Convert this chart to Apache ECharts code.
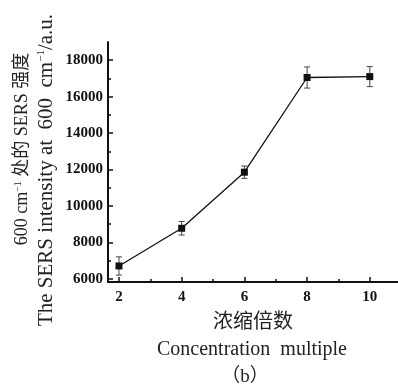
<!DOCTYPE html>
<html>
<head>
<meta charset="utf-8">
<script src="https://cdn.jsdelivr.net/npm/echarts@6/dist/echarts.min.js"></script>
<style>html,body{margin:0;padding:0;background:#fff;}#c{width:398px;height:389px;}</style>
</head>
<body>
<div id="c"></div>
<script>
const concentration = [2, 4, 6, 8, 10];
const intensity = [6700, 8770, 11850, 17050, 17100];
const errors = [500, 370, 340, 580, 550];
const xTickLabels = [2, 4, 6, 8, 10];
const xMinorTicks = [3, 5, 7, 9];
const yTickLabels = [6000, 8000, 10000, 12000, 14000, 16000, 18000];
const yMinorTicks = [7000, 9000, 11000, 13000, 15000, 17000];

const serif = '"Liberation Serif", "Times New Roman", "Noto Sans CJK SC", serif';
const chart = echarts.init(document.getElementById('c'), null, {renderer: 'canvas'});

const points = concentration.map((x, i) => [x, intensity[i]]);
const errData = concentration.map((x, i) => [x, intensity[i] - errors[i], intensity[i] + errors[i]]);

const xBase = {type: 'value', min: 1.65, max: 10.9, gridIndex: 0, position: 'bottom', splitLine: {show: false}};
const yBase = {type: 'value', min: 5820, max: 19000, gridIndex: 0, position: 'left', splitLine: {show: false}};

chart.setOption({
  animation: false,
  backgroundColor: '#fff',
  grid: {left: 108, right: 0, top: 42, bottom: 107, containLabel: false},
  xAxis: [
    Object.assign({}, xBase, {
      axisLine: {show: true, onZero: false, lineStyle: {color: '#111', width: 2}},
      axisTick: {show: true, inside: true, length: 5, customValues: xTickLabels, lineStyle: {color: '#111', width: 1.5}},
      axisLabel: {show: true, customValues: xTickLabels, margin: 8, color: '#111', fontFamily: serif, fontWeight: 'bold', fontSize: 15,
        formatter: v => String(v)}
    }),
    Object.assign({}, xBase, {
      axisLine: {show: false, onZero: false},
      axisTick: {show: true, inside: true, length: 3, customValues: xMinorTicks, lineStyle: {color: '#111', width: 1.5}},
      axisLabel: {show: false}
    })
  ],
  yAxis: [
    Object.assign({}, yBase, {
      axisLine: {show: true, onZero: false, lineStyle: {color: '#111', width: 2}},
      axisTick: {show: true, inside: true, length: 5, customValues: yTickLabels, lineStyle: {color: '#111', width: 1.5}},
      axisLabel: {show: true, customValues: yTickLabels, margin: 5, color: '#111', fontFamily: serif, fontWeight: 'bold', fontSize: 15,
        formatter: v => String(v)}
    }),
    Object.assign({}, yBase, {
      axisLine: {show: false, onZero: false},
      axisTick: {show: true, inside: true, length: 3, customValues: yMinorTicks, lineStyle: {color: '#111', width: 1.5}},
      axisLabel: {show: false}
    })
  ],
  series: [
    {
      type: 'custom',
      xAxisIndex: 0, yAxisIndex: 0,
      data: errData,
      z: 3,
      renderItem: function (params, api) {
        const x = api.value(0);
        const lo = api.coord([x, api.value(1)]);
        const hi = api.coord([x, api.value(2)]);
        const w = 3;
        const st = {stroke: '#444', lineWidth: 1};
        return {
          type: 'group',
          children: [
            {type: 'line', shape: {x1: lo[0], y1: lo[1], x2: hi[0], y2: hi[1]}, style: st},
            {type: 'line', shape: {x1: lo[0] - w, y1: lo[1], x2: lo[0] + w, y2: lo[1]}, style: st},
            {type: 'line', shape: {x1: hi[0] - w, y1: hi[1], x2: hi[0] + w, y2: hi[1]}, style: st}
          ]
        };
      }
    },
    {
      type: 'line',
      xAxisIndex: 0, yAxisIndex: 0,
      data: points,
      z: 4,
      symbol: 'rect',
      symbolSize: 7,
      showSymbol: true,
      lineStyle: {color: '#111', width: 1.3},
      itemStyle: {color: '#111'}
    }
  ],
  graphic: [
    {
      type: 'text', x: 22, y: 149, rotation: Math.PI / 2,
      style: {
        text: '600 cm{sup|−1} 处的 SERS 强度',
        fontFamily: serif, fontSize: 18, fill: '#222',
        align: 'center', verticalAlign: 'middle',
        rich: {sup: {fontSize: 10, fontFamily: serif, fill: '#222', padding: [0, 0, 8, 0]}}
      }
    },
    {
      type: 'text', x: 46, y: 170, rotation: Math.PI / 2,
      style: {
        text: 'The SERS intensity at  600  cm{sup|−1}/a.u.',
        fontFamily: serif, fontSize: 21, fill: '#222',
        align: 'center', verticalAlign: 'middle',
        rich: {sup: {fontSize: 11, fontFamily: serif, fill: '#222', padding: [0, 0, 9, 0]}}
      }
    },
    {
      type: 'text', x: 253, y: 323,
      style: {text: '浓缩倍数', fontFamily: serif, fontSize: 20, fill: '#222', align: 'center', verticalAlign: 'middle'}
    },
    {
      type: 'text', x: 252, y: 350,
      style: {text: 'Concentration  multiple', fontFamily: serif, fontSize: 20, fill: '#222', align: 'center', verticalAlign: 'middle'}
    },
    {
      type: 'text', x: 245, y: 377,
      style: {text: '（b）', fontFamily: serif, fontSize: 19, fill: '#222', align: 'center', verticalAlign: 'middle'}
    }
  ]
});
</script>
</body>
</html>
